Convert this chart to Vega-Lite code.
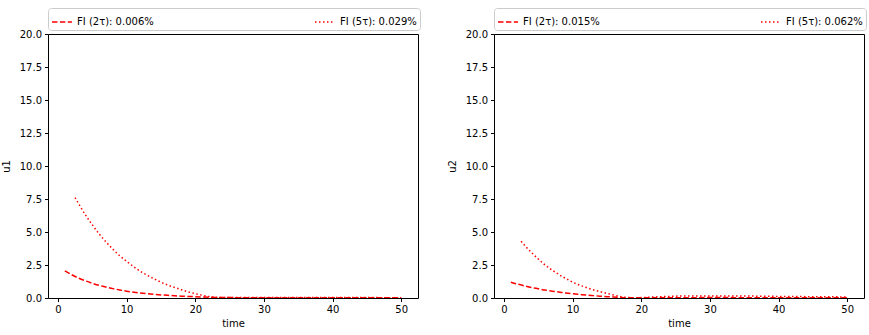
{
  "$schema": "https://vega.github.io/schema/vega-lite/v6.json",
  "padding": {"left": 0, "top": 7, "right": 4, "bottom": 5},
  "background": "white",
  "datasets": {
    "p1": [
      {"series": "FI (2τ): 0.006%", "t": 1, "v": 2.05},
      {"series": "FI (2τ): 0.006%", "t": 2, "v": 1.76},
      {"series": "FI (2τ): 0.006%", "t": 3, "v": 1.51},
      {"series": "FI (2τ): 0.006%", "t": 4, "v": 1.3},
      {"series": "FI (2τ): 0.006%", "t": 5, "v": 1.12},
      {"series": "FI (2τ): 0.006%", "t": 6, "v": 0.96},
      {"series": "FI (2τ): 0.006%", "t": 7, "v": 0.83},
      {"series": "FI (2τ): 0.006%", "t": 8, "v": 0.71},
      {"series": "FI (2τ): 0.006%", "t": 9, "v": 0.61},
      {"series": "FI (2τ): 0.006%", "t": 10, "v": 0.52},
      {"series": "FI (2τ): 0.006%", "t": 12, "v": 0.38},
      {"series": "FI (2τ): 0.006%", "t": 14, "v": 0.28},
      {"series": "FI (2τ): 0.006%", "t": 16, "v": 0.2},
      {"series": "FI (2τ): 0.006%", "t": 18, "v": 0.14},
      {"series": "FI (2τ): 0.006%", "t": 20, "v": 0.1},
      {"series": "FI (2τ): 0.006%", "t": 22, "v": 0.06},
      {"series": "FI (2τ): 0.006%", "t": 25, "v": 0.03},
      {"series": "FI (2τ): 0.006%", "t": 30, "v": 0.02},
      {"series": "FI (2τ): 0.006%", "t": 35, "v": 0.01},
      {"series": "FI (2τ): 0.006%", "t": 40, "v": 0.01},
      {"series": "FI (2τ): 0.006%", "t": 45, "v": 0.01},
      {"series": "FI (2τ): 0.006%", "t": 50, "v": 0.01},
      {"series": "FI (5τ): 0.029%", "t": 2.5, "v": 7.6},
      {"series": "FI (5τ): 0.029%", "t": 3, "v": 7.15},
      {"series": "FI (5τ): 0.029%", "t": 4, "v": 6.3},
      {"series": "FI (5τ): 0.029%", "t": 5, "v": 5.55},
      {"series": "FI (5τ): 0.029%", "t": 6, "v": 4.85},
      {"series": "FI (5τ): 0.029%", "t": 7, "v": 4.25},
      {"series": "FI (5τ): 0.029%", "t": 8, "v": 3.7},
      {"series": "FI (5τ): 0.029%", "t": 9, "v": 3.2},
      {"series": "FI (5τ): 0.029%", "t": 10, "v": 2.78},
      {"series": "FI (5τ): 0.029%", "t": 11, "v": 2.38},
      {"series": "FI (5τ): 0.029%", "t": 12, "v": 2.02},
      {"series": "FI (5τ): 0.029%", "t": 13, "v": 1.72},
      {"series": "FI (5τ): 0.029%", "t": 14, "v": 1.45},
      {"series": "FI (5τ): 0.029%", "t": 15, "v": 1.2},
      {"series": "FI (5τ): 0.029%", "t": 16, "v": 0.98},
      {"series": "FI (5τ): 0.029%", "t": 17, "v": 0.8},
      {"series": "FI (5τ): 0.029%", "t": 18, "v": 0.62},
      {"series": "FI (5τ): 0.029%", "t": 19, "v": 0.46},
      {"series": "FI (5τ): 0.029%", "t": 20, "v": 0.33},
      {"series": "FI (5τ): 0.029%", "t": 21, "v": 0.21},
      {"series": "FI (5τ): 0.029%", "t": 22, "v": 0.11},
      {"series": "FI (5τ): 0.029%", "t": 23, "v": 0.05},
      {"series": "FI (5τ): 0.029%", "t": 25, "v": 0.03},
      {"series": "FI (5τ): 0.029%", "t": 30, "v": 0.04},
      {"series": "FI (5τ): 0.029%", "t": 35, "v": 0.04},
      {"series": "FI (5τ): 0.029%", "t": 40, "v": 0.03},
      {"series": "FI (5τ): 0.029%", "t": 45, "v": 0.03},
      {"series": "FI (5τ): 0.029%", "t": 50, "v": 0.02}
    ],
    "p2": [
      {"series": "FI (2τ): 0.015%", "t": 1, "v": 1.2},
      {"series": "FI (2τ): 0.015%", "t": 2, "v": 1.05},
      {"series": "FI (2τ): 0.015%", "t": 3, "v": 0.92},
      {"series": "FI (2τ): 0.015%", "t": 4, "v": 0.8},
      {"series": "FI (2τ): 0.015%", "t": 5, "v": 0.7},
      {"series": "FI (2τ): 0.015%", "t": 6, "v": 0.6},
      {"series": "FI (2τ): 0.015%", "t": 7, "v": 0.52},
      {"series": "FI (2τ): 0.015%", "t": 8, "v": 0.45},
      {"series": "FI (2τ): 0.015%", "t": 9, "v": 0.38},
      {"series": "FI (2τ): 0.015%", "t": 10, "v": 0.32},
      {"series": "FI (2τ): 0.015%", "t": 11, "v": 0.27},
      {"series": "FI (2τ): 0.015%", "t": 12, "v": 0.22},
      {"series": "FI (2τ): 0.015%", "t": 13, "v": 0.18},
      {"series": "FI (2τ): 0.015%", "t": 14, "v": 0.14},
      {"series": "FI (2τ): 0.015%", "t": 15, "v": 0.1},
      {"series": "FI (2τ): 0.015%", "t": 16, "v": 0.07},
      {"series": "FI (2τ): 0.015%", "t": 17, "v": 0.04},
      {"series": "FI (2τ): 0.015%", "t": 18, "v": 0.02},
      {"series": "FI (2τ): 0.015%", "t": 20, "v": 0.01},
      {"series": "FI (2τ): 0.015%", "t": 25, "v": 0.02},
      {"series": "FI (2τ): 0.015%", "t": 30, "v": 0.03},
      {"series": "FI (2τ): 0.015%", "t": 40, "v": 0.02},
      {"series": "FI (2τ): 0.015%", "t": 50, "v": 0.01},
      {"series": "FI (5τ): 0.062%", "t": 2.5, "v": 4.3},
      {"series": "FI (5τ): 0.062%", "t": 3, "v": 4.0},
      {"series": "FI (5τ): 0.062%", "t": 4, "v": 3.45},
      {"series": "FI (5τ): 0.062%", "t": 5, "v": 2.95},
      {"series": "FI (5τ): 0.062%", "t": 6, "v": 2.5},
      {"series": "FI (5τ): 0.062%", "t": 7, "v": 2.12},
      {"series": "FI (5τ): 0.062%", "t": 8, "v": 1.78},
      {"series": "FI (5τ): 0.062%", "t": 9, "v": 1.48},
      {"series": "FI (5τ): 0.062%", "t": 10, "v": 1.2},
      {"series": "FI (5τ): 0.062%", "t": 11, "v": 0.98},
      {"series": "FI (5τ): 0.062%", "t": 12, "v": 0.79},
      {"series": "FI (5τ): 0.062%", "t": 13, "v": 0.62},
      {"series": "FI (5τ): 0.062%", "t": 14, "v": 0.48},
      {"series": "FI (5τ): 0.062%", "t": 15, "v": 0.35},
      {"series": "FI (5τ): 0.062%", "t": 16, "v": 0.22},
      {"series": "FI (5τ): 0.062%", "t": 17, "v": 0.1},
      {"series": "FI (5τ): 0.062%", "t": 18, "v": 0.04},
      {"series": "FI (5τ): 0.062%", "t": 19, "v": 0.02},
      {"series": "FI (5τ): 0.062%", "t": 20, "v": 0.03},
      {"series": "FI (5τ): 0.062%", "t": 22, "v": 0.08},
      {"series": "FI (5τ): 0.062%", "t": 24, "v": 0.12},
      {"series": "FI (5τ): 0.062%", "t": 26, "v": 0.15},
      {"series": "FI (5τ): 0.062%", "t": 30, "v": 0.16},
      {"series": "FI (5τ): 0.062%", "t": 35, "v": 0.15},
      {"series": "FI (5τ): 0.062%", "t": 40, "v": 0.12},
      {"series": "FI (5τ): 0.062%", "t": 45, "v": 0.1},
      {"series": "FI (5τ): 0.062%", "t": 50, "v": 0.08}
    ]
  },
  "hconcat": [
    {
      "width": 370,
      "height": 264,
      "data": {"name": "p1"},
      "mark": {"type": "line", "color": "red", "strokeWidth": 1.5, "interpolate": "monotone", "clip": true},
      "encoding": {
        "x": {"field": "t", "type": "quantitative", "title": "time",
              "scale": {"domain": [-1.45, 52.45], "nice": false, "zero": false},
              "axis": {"values": [0, 10, 20, 30, 40, 50], "format": "d"}},
        "y": {"field": "v", "type": "quantitative", "title": "u1",
              "scale": {"domain": [0, 20], "nice": false},
              "axis": {"values": [0, 2.5, 5, 7.5, 10, 12.5, 15, 17.5, 20], "format": ".1f"}},
        "strokeDash": {"field": "series", "type": "nominal",
              "scale": {"domain": ["FI (2τ): 0.006%", "FI (5τ): 0.029%"], "range": [[5.5, 2.4], [1.5, 2.5]]},
              "legend": {"title": null, "orient": "none", "legendX": 0, "legendY": -26, "direction": "horizontal", "columnPadding": 158}}
      }
    },
    {
      "width": 370,
      "height": 264,
      "data": {"name": "p2"},
      "mark": {"type": "line", "color": "red", "strokeWidth": 1.5, "interpolate": "monotone", "clip": true},
      "encoding": {
        "x": {"field": "t", "type": "quantitative", "title": "time",
              "scale": {"domain": [-1.45, 52.45], "nice": false, "zero": false},
              "axis": {"values": [0, 10, 20, 30, 40, 50], "format": "d"}},
        "y": {"field": "v", "type": "quantitative", "title": "u2",
              "scale": {"domain": [0, 20], "nice": false},
              "axis": {"values": [0, 2.5, 5, 7.5, 10, 12.5, 15, 17.5, 20], "format": ".1f"}},
        "strokeDash": {"field": "series", "type": "nominal",
              "scale": {"domain": ["FI (2τ): 0.015%", "FI (5τ): 0.062%"], "range": [[5.5, 2.4], [1.5, 2.5]]},
              "legend": {"title": null, "orient": "none", "legendX": 0, "legendY": -26, "direction": "horizontal", "columnPadding": 158}}
      }
    }
  ],
  "spacing": 25,
  "resolve": {"scale": {"strokeDash": "independent"}, "legend": {"strokeDash": "independent"}},
  "config": {
    "font": "DejaVu Sans",
    "view": {"stroke": "black", "strokeWidth": 1},
    "axis": {
      "grid": false,
      "domain": false,
      "tickColor": "black",
      "tickSize": 3.5,
      "labelColor": "black",
      "labelFontSize": 10,
      "labelFont": "DejaVu Sans",
      "titleFont": "DejaVu Sans",
      "titleFontSize": 10,
      "titleFontWeight": "normal",
      "titleColor": "black",
      "labelPadding": 3
    },
    "axisY": {"titlePadding": 8},
    "axisX": {"titlePadding": 4},
    "legend": {
      "symbolType": "stroke",
      "symbolStrokeColor": "red",
      "symbolStrokeWidth": 1.5,
      "symbolSize": 400,
      "labelFont": "DejaVu Sans",
      "labelFontSize": 10,
      "labelColor": "black",
      "strokeColor": "#cccccc",
      "cornerRadius": 3,
      "padding": 3,
      "fillColor": "white"
    }
  }
}
